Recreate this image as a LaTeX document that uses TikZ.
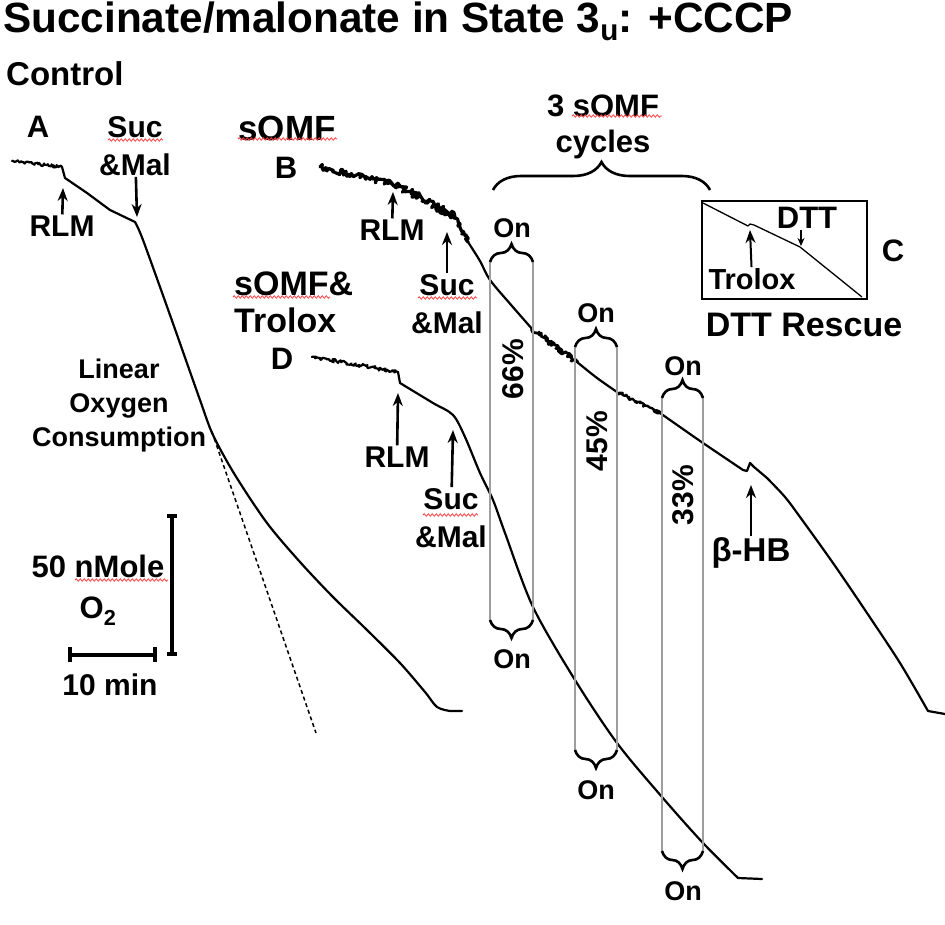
\documentclass[tikz,border=0pt]{standalone}
\usepackage{fontspec}
\setmainfont{Liberation Sans}
\usetikzlibrary{arrows,arrows.meta,decorations.pathmorphing,decorations.pathreplacing}
\newcommand\tsize[2]{\fontsize{#1}{#2}\selectfont\bfseries}
\definecolor{boxgray}{gray}{0.62}
\tikzset{
    %Define standard arrow tip
    >={Stealth[length=13pt,width=10pt]},
    %Define style for labels
    lab/.style={
           inner sep=1pt,
           align=center,
           font=\tsize{30}{38}},
    letter/.style={lab, font=\tsize{31}{34}},
    on/.style={lab, font=\tsize{27}{30}},
    pct/.style={lab, rotate=90, font=\tsize{30}{32}},
    % Define trace styles
    trace/.style={line width=2.2pt, line join=round, line cap=round},
    noisy/.style={decoration={random steps, segment length=1.2pt, amplitude=#1}},
    % Define arrow style
    pointer/.style={->, line width=2.6pt},
    onbox/.style={draw=boxgray, line width=1.2pt},
    brc/.style={decorate, decoration={brace, amplitude=#1}, line width=2.6pt},
    bar/.style={line width=4pt},
    squig/.style={draw=red!75, line width=0.8pt, decorate,
           decoration={snake, amplitude=1.2pt, segment length=4pt}}
}
\begin{document}
\begin{tikzpicture}[x=1pt,y=-1pt]
\useasboundingbox (0,0) rectangle (945,925);
\pgfmathsetseed{7}

%headings
\node[anchor=base west, inner sep=0pt, font=\tsize{42.3}{48}] (title) at (3,33) {Succinate/malonate in State 3\textsubscript{u}: +CCCP};
\node[anchor=base west, inner sep=0pt, font=\tsize{33}{38}] (control) at (6,86) {Control};

%trace A, control
\draw[trace] (12,161) decorate[noisy=1.4pt] {-- (62,167)} -- (65,178) -- (87,193) -- (110,210) -- (135,222);
\draw[trace] plot[smooth, tension=0.5] coordinates {(135,222) (143,240) (170,315) (200,400) (213,435) (235,475) (267,523) (300,562) (333,597) (367,630) (400,663) (425,692) (437,707) (450,711)} -- (462,711);
\draw[line width=1.5pt, dash pattern=on 4pt off 3pt] (212,432) -- (316,733);

\node[letter] (a) at (38,127) {A};
\node[lab] (sucA) at (135,146) {Suc\\\&Mal};
\coordinate (sucAtip) at (137,217);
\draw[pointer] (sucA) -- (sucAtip);
\node[lab] (rlmA) at (62,226) {RLM};
\coordinate (rlmAtip) at (63,188);
\draw[pointer] (rlmA) -- (rlmAtip);
\node[lab, font=\tsize{27}{34}] (linear) at (119,406) {Linear\\Oxygen\\Consumption};

%scale bars
\draw[bar] (167,516) -- (177,516) (172,516) -- (172,654) (167,654) -- (177,654);
\draw[bar] (70,647) -- (70,662) (70,655) -- (155,655) (155,647) -- (155,662);
\node[lab, font=\tsize{31}{41}] (nmole) at (98,590) {50 nMole\\O\textsubscript{2}};
\node[lab] (tenmin) at (110,685) {10 min};

%trace B, sOMF
\draw[trace, line width=3.2pt] (320,167) decorate[noisy=3pt] {-- (397,185)} decorate[noisy=3.8pt] {-- (455,217)} decorate[noisy=1.8pt] {-- (468,242)};
\draw[trace] plot[smooth] coordinates {(468,242) (480,261) (490,280) (512,306) (533,330)};
\draw[trace, line width=2.8pt] (533,330) decorate[noisy=2.8pt] {-- (577,362)};
\draw[trace] plot[smooth] coordinates {(577,362) (597,378) (617,392)};
\draw[trace, line width=2.4pt] (617,392) decorate[noisy=1.8pt] {-- (660,413)};
\draw[trace] plot[smooth] coordinates {(660,413) (680,427) (703,443) (743,470)} -- (747,471) -- (750,463) -- (754,467) -- (767,478);
\draw[trace] plot[smooth] coordinates {(767,478) (785,497) (800,517) (833,563) (867,613) (900,663) (928,711)} -- (945,714);

\node[lab, font=\tsize{35}{40}] (somf) at (287,128) {sOMF};
\node[letter] (b) at (286,168) {B};
\node[lab] (rlmB) at (392,230) {RLM};
\coordinate (rlmBtip) at (393,192);
\draw[pointer] (rlmB) -- (rlmBtip);
\node[lab] (sucB) at (447,304) {Suc\\\&Mal};
\coordinate (sucBtip) at (447,232);
\draw[pointer] (sucB) -- (sucBtip);
\node[lab, font=\tsize{33}{38}] (bhb) at (751,553) {β-HB};
\coordinate (bhbtip) at (751,485);
\draw[pointer] (bhb) -- (bhbtip);

%trace D, sOMF & Trolox
\draw[trace] (312,357) decorate[noisy=1.8pt] {-- (398,372)} -- (400,383);
\draw[trace] plot[smooth, tension=0.5] coordinates {(400,383) (433,403) (453,415) (465,437) (480,473) (493,500) (505,533) (533,607) (575,680) (617,743) (662,797) (703,843) (738,878)} -- (762,879);

\node[lab, align=left, anchor=west, font=\tsize{34}{37}] (somfTrolox) at (233,302) {sOMF\&\\Trolox};
\node[letter] (d) at (282,359) {D};
\node[lab] (rlmD) at (397,457) {RLM};
\coordinate (rlmDtip) at (398,393);
\draw[pointer] (rlmD) -- (rlmDtip);
\node[lab] (sucD) at (451,518) {Suc\\\&Mal};
\coordinate (sucDtip) at (453,430);
\draw[pointer] (sucD) -- (sucDtip);

%sOMF cycles
\node[lab, font=\tsize{31}{36}] (cycles) at (603,127) {3 sOMF\\cycles};
\draw[brc=28pt] (493,190) -- (710,190);
% cycle 1
\draw[onbox] (490,262) -- (490,620) (533,262) -- (533,620);
\draw[brc=18pt] (490,262) -- (533,262);
\draw[brc=18pt] (533,620) -- (490,620);
\node[on] (on1) at (512,228) {On};
\node[on] (off1) at (512,659) {On};
\node[pct] (p1) at (513,369) {66\%};
% cycle 2
\draw[onbox] (575,347) -- (575,750) (617,347) -- (617,750);
\draw[brc=18pt] (575,347) -- (617,347);
\draw[brc=18pt] (617,750) -- (575,750);
\node[on] (on2) at (596,313) {On};
\node[on] (off2) at (596,790) {On};
\node[pct] (p2) at (597,441) {45\%};
% cycle 3
\draw[onbox] (662,398) -- (662,851) (703,398) -- (703,851);
\draw[brc=18pt] (662,398) -- (703,398);
\draw[brc=18pt] (703,851) -- (662,851);
\node[on] (on3) at (683,366) {On};
\node[on] (off3) at (683,891) {On};
\node[pct] (p3) at (683,495) {33\%};

%inset C, DTT rescue
\draw[line width=2pt] (702,201) rectangle (867,299);
\draw[line width=1.3pt, line join=round] (703,203) -- (748,226) -- (750,224) -- (754,225) -- (800,247) -- (862,297);
\node[lab, font=\tsize{29}{32}] (troloxC) at (752,279) {Trolox};
\coordinate (troloxCtip) at (750,230);
\draw[pointer, line width=2pt] (troloxC) -- (troloxCtip);
\node[lab, font=\tsize{31}{34}] (dtt) at (807,218) {DTT};
\coordinate (dtttip) at (801,246);
\draw[->, >={Stealth[length=8pt,width=7pt]}, line width=2pt] (dtt.south -| dtttip) -- (dtttip);
\node[letter] (c) at (893,251) {C};
\node[lab, font=\tsize{34}{38}] (rescue) at (804,325) {DTT Rescue};

%spelling marks
\draw[squig] (108,140) -- (163,140);
\draw[squig] (238,139) -- (337,139);
\draw[squig] (572,116) -- (662,116);
\draw[squig] (233,297) -- (330,297);
\draw[squig] (418,298) -- (477,298);
\draw[squig] (423,515) -- (478,515);
\draw[squig] (75,580) -- (168,580);

\end{tikzpicture}
\end{document}
